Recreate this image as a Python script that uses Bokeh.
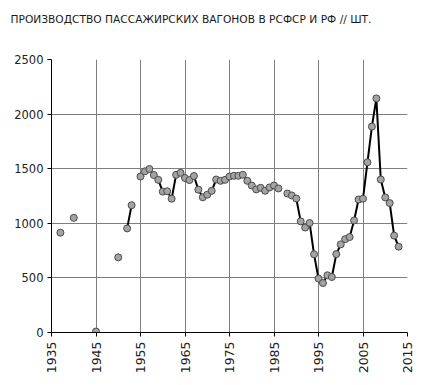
import math
from bokeh.plotting import figure
from bokeh.models import Range1d, FixedTicker, Title
from bokeh.embed import file_html
from bokeh.resources import INLINE

title_text = "ПРОИЗВОДСТВО ПАССАЖИРСКИХ ВАГОНОВ В РСФСР И РФ // ШТ."

years = [1937, 1940, 1945, 1950, 1952, 1953,
         1955, 1956, 1957, 1958, 1959, 1960, 1961, 1962, 1963, 1964,
         1965, 1966, 1967, 1968, 1969, 1970, 1971, 1972, 1973, 1974,
         1975, 1976, 1977, 1978, 1979, 1980, 1981, 1982, 1983, 1984,
         1985, 1986, 1988, 1989, 1990, 1991, 1992, 1993, 1994,
         1995, 1996, 1997, 1998, 1999, 2000, 2001, 2002, 2003, 2004,
         2005, 2006, 2007, 2008, 2009, 2010, 2011, 2012, 2013]
wagons = [914, 1050, 9, 688, 953, 1166,
          1429, 1476, 1497, 1442, 1398, 1290, 1294, 1225, 1444, 1462,
          1415, 1396, 1433, 1308, 1238, 1262, 1297, 1401, 1389, 1398,
          1429, 1435, 1435, 1444, 1389, 1346, 1310, 1325, 1298, 1328,
          1346, 1319, 1273, 1255, 1227, 1018, 961, 1003, 716,
          494, 453, 524, 508, 718, 807, 855, 874, 1026, 1218,
          1225, 1559, 1886, 2144, 1401, 1237, 1185, 887, 786]

x_ticks = [1935, 1945, 1955, 1965, 1975, 1985, 1995, 2005, 2015]
y_ticks = [0, 500, 1000, 1500, 2000, 2500]

# line breaks where years are not consecutive
lx, ly = [], []
for i, (yr, v) in enumerate(zip(years, wagons)):
    if i > 0 and yr - years[i - 1] > 1:
        lx.append(float("nan"))
        ly.append(float("nan"))
    lx.append(yr)
    ly.append(v)

p = figure(width=433, height=385, output_backend="svg", toolbar_location=None,
           x_range=Range1d(1935, 2015), y_range=Range1d(0, 2500),
           min_border_left=51, min_border_right=26, min_border_top=59,
           min_border_bottom=53)

# spacer panel next to the frame (first added = closest to frame)
p.add_layout(Title(text=" ", text_font_size="10px", standoff=17), "above")
# the chart title, stacked above the spacer
p.add_layout(Title(text=title_text, text_font="DejaVu Sans",
                   text_font_size="10.65px", text_font_style="normal",
                   text_color="#1a1a1a", align="left", vertical_align="top",
                   offset=-41, standoff=4), "above")

p.outline_line_color = None
p.background_fill_color = "white"
p.border_fill_color = "white"

for ax in (p.xaxis[0], p.yaxis[0]):
    ax.axis_line_color = "black"
    ax.axis_line_width = 1
    ax.major_tick_line_color = "black"
    ax.major_tick_out = 4
    ax.major_tick_in = 0
    ax.minor_tick_line_color = None
    ax.major_label_text_font = "DejaVu Sans"
    ax.major_label_text_color = "#222222"

p.xaxis.ticker = FixedTicker(ticks=x_ticks)
p.yaxis.ticker = FixedTicker(ticks=y_ticks)
p.xaxis.major_label_orientation = math.pi / 2
p.xaxis.major_label_text_font_size = "12.5px"
p.yaxis.major_label_text_font_size = "11.5px"
p.xaxis.major_label_standoff = 5
p.yaxis.major_label_standoff = 4

p.xgrid.ticker = FixedTicker(ticks=x_ticks)
p.ygrid.ticker = FixedTicker(ticks=y_ticks)
for g in (p.xgrid[0], p.ygrid[0]):
    g.grid_line_color = "#7f7f7f"
    g.grid_line_width = 1

p.line(lx, ly, line_color="black", line_width=2)
p.scatter(years, wagons, size=7, marker="circle", fill_color="#a3a3a3",
          line_color="#4a4a4a", line_width=1)

open("out.html", "w").write(file_html(p, INLINE))
